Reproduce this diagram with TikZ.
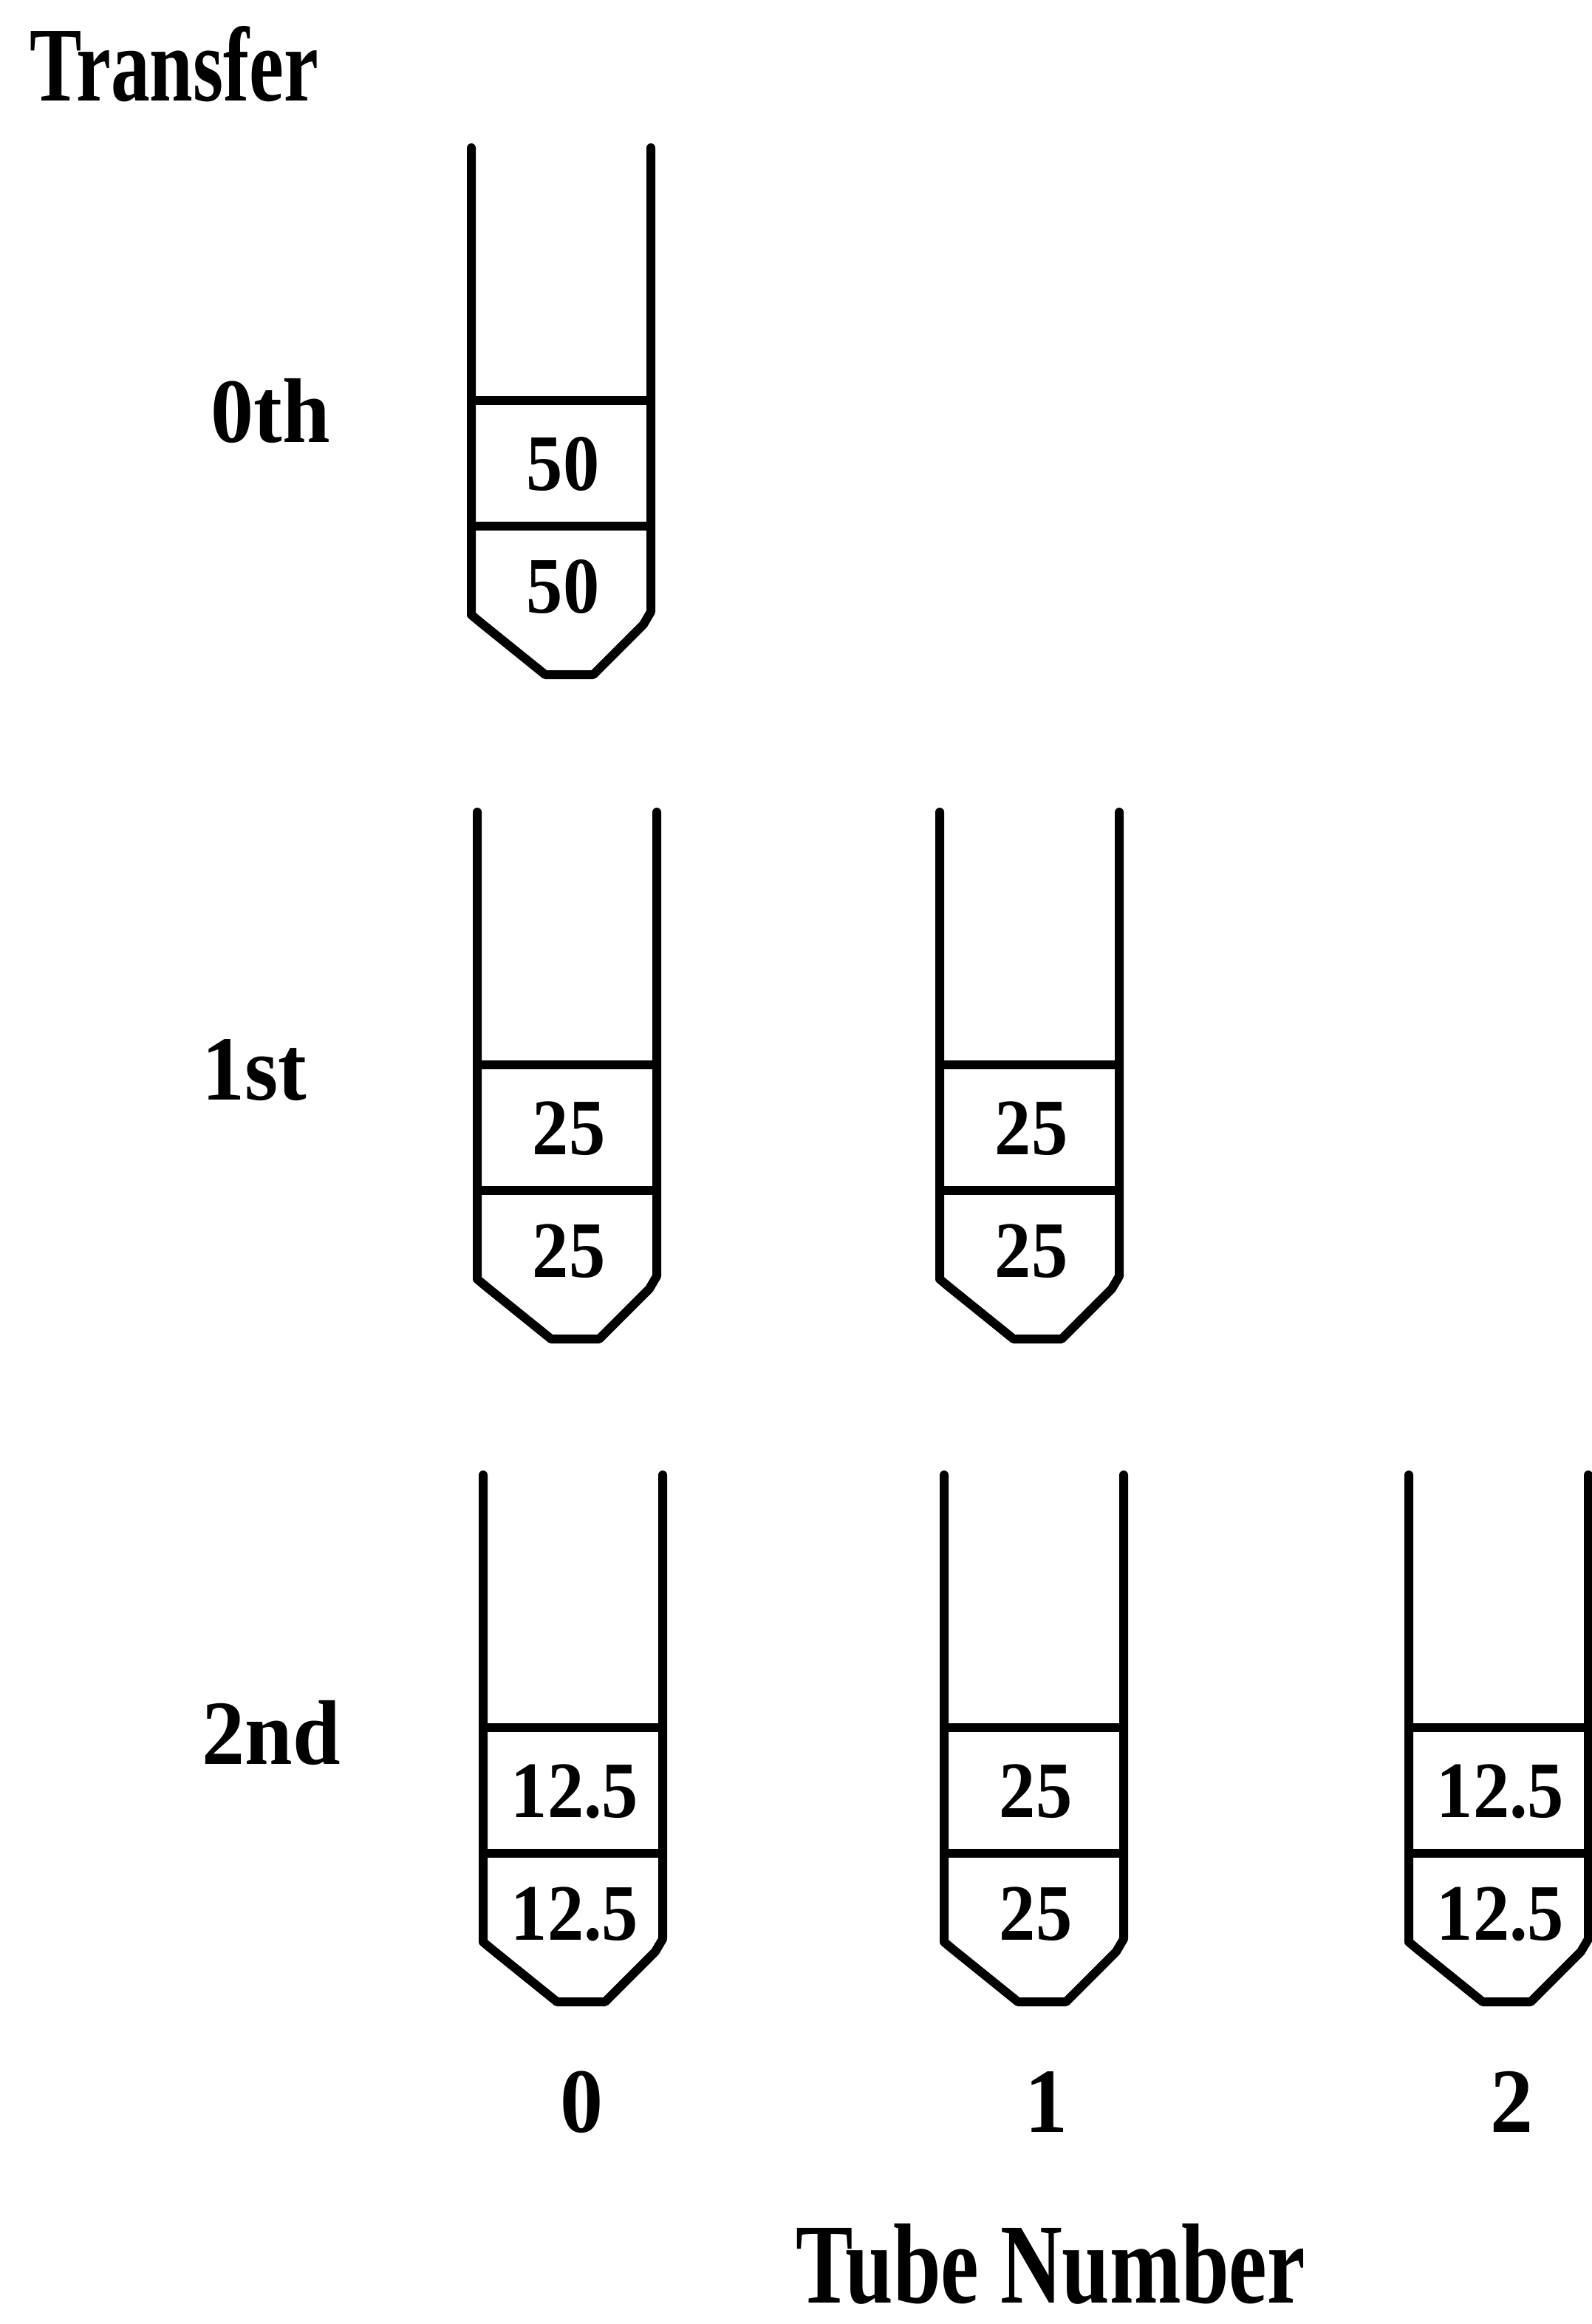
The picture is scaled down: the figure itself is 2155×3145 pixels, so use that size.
\documentclass[tikz,border=0pt]{standalone}
\usepackage{fontspec}
\usepackage{graphicx}
\setmainfont{Liberation Serif}
\tikzset{
  wall/.style={line width=0.12cm, line join=round, line cap=round},
  bandtext/.style={inner sep=0pt, font=\bfseries\fontsize{28}{30}\selectfont},
  lbl/.style={inner sep=0pt, font=\bfseries\fontsize{33}{36}\selectfont},
  title/.style={inner sep=0pt, font=\bfseries\fontsize{30}{34}\selectfont},
}
% #1 name, #2 left x, #3 top y, #4 upper text, #5 lower text
\newcommand{\mytube}[5]{%
  \draw[wall] (#2,#3) -- (#2,#3+632) -- (#2+12,#3+642) -- (#2+100,#3+713)
     -- (#2+165,#3+713) -- (#2+233,#3+645) -- (#2+243,#3+628) -- (#2+243,#3);
  \draw[wall] (#2,#3+342) -- (#2+243,#3+342);
  \draw[wall] (#2,#3+512) -- (#2+243,#3+512);
  \node[bandtext] (#1u) at (#2+124,#3+428) {\scalebox{1}[1.1]{#4}};
  \node[bandtext] (#1l) at (#2+124,#3+594) {\scalebox{1}[1.1]{#5}};
}
\begin{document}
\begin{tikzpicture}[x=0.01cm, y=-0.01cm]
\useasboundingbox (0,0) rectangle (2155,3145);
\node[title, anchor=base west] (transfer) at (40,136) {\scalebox{1}[1.36]{Transfer}};
\node[lbl, anchor=base west] (r0) at (285,598) {\scalebox{1}[1.07]{0th}};
\node[lbl, anchor=base west] (r1) at (273,1488) {\scalebox{1}[1.07]{1st}};
\node[lbl, anchor=base west] (r2) at (273,2387) {\scalebox{1}[1.07]{2nd}};
\mytube{a}{638}{200}{50}{50}
\mytube{b}{646}{1099}{25}{25}
\mytube{c}{1272}{1099}{25}{25}
\mytube{d}{654}{1996}{12.5}{12.5}
\mytube{e}{1278}{1996}{25}{25}
\mytube{f}{1907}{1996}{12.5}{12.5}
\node[lbl, anchor=base] (n0) at (788,2885) {\scalebox{1}[1.07]{0}};
\node[lbl, anchor=base] (n1) at (1416,2885) {\scalebox{1}[1.07]{1}};
\node[lbl, anchor=base] (n2) at (2046,2885) {\scalebox{1}[1.07]{2}};
\node[title, anchor=base west, font=\bfseries\fontsize{33}{36}\selectfont] (tn) at (1077,3116) {\scalebox{1}[1.33]{Tube Number}};
\end{tikzpicture}
\end{document}
